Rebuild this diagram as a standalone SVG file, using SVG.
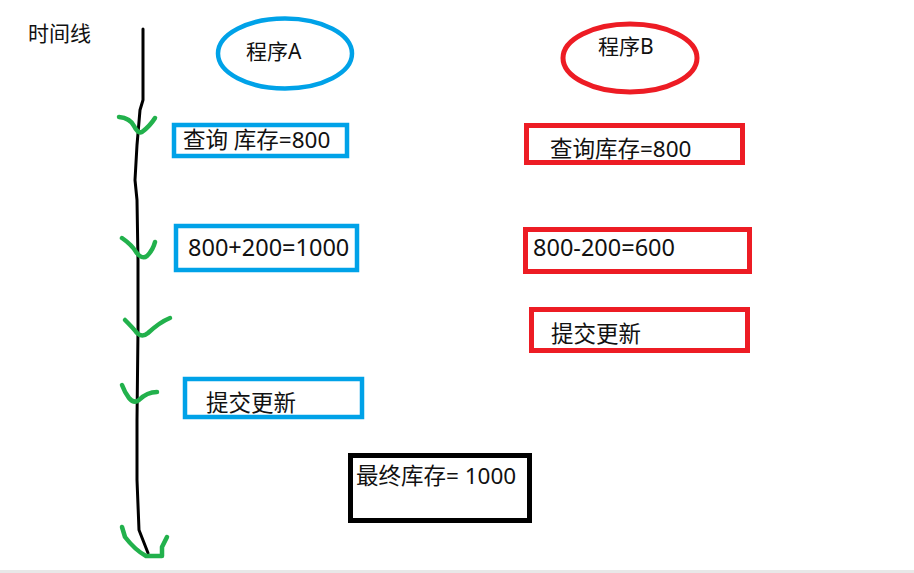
<svg xmlns="http://www.w3.org/2000/svg" width="914" height="573" viewBox="0 0 914 573">
<style>
text{font-family:"Noto Sans","Noto Sans CJK SC",sans-serif;font-size:22.5px;fill:#111}
.num{font-size:23.5px}
.blue{fill:none;stroke:#00a2e8;stroke-width:4.5}
.red{fill:none;stroke:#ed1c24;stroke-width:5}
.blk{fill:none;stroke:#000;stroke-width:5}
.chk{fill:none;stroke:#22b14c;stroke-width:4.5;stroke-linecap:round;stroke-linejoin:round}
.tl{fill:none;stroke:#000;stroke-width:3;stroke-linecap:round;stroke-linejoin:round}
</style>
<rect width="914" height="573" fill="#fff"/>
<rect x="0" y="570" width="914" height="3" fill="#e8e8e8"/>
<text x="28" y="41" style="font-size:21px">时间线</text>
<g id="connectors">
<path class="tl" d="M143,29 L143,100 L140,110 L137,145 L135,180 L137,200 L138,260 L138,330 L137,420 L137,480 L139,530 L148,553"/>
<path class="chk" d="M119,117 Q130,118 134,126 Q138,134 142,132 Q150,126 155,118"/>
<path class="chk" d="M122,238 Q132,245 136,252 Q142,260 147,256 Q153,250 155,242"/>
<path class="chk" d="M125,320 Q133,328 137,333 Q142,338 148,333 Q160,322 170,318"/>
<path class="chk" d="M122,385 Q125,393 129,398 Q134,404 139,400 Q147,392 157,392"/>
<path class="chk" d="M122,527 L125,537 Q135,550 146,556 L162,556 L162,547 L167,537"/>
</g>
<g id="progA">
<ellipse class="blue" cx="285" cy="53.5" rx="67" ry="35"/>
<text x="246" y="59" style="font-size:21px">程序A</text>
</g>
<g id="progB">
<ellipse class="red" cx="630" cy="58" rx="67" ry="34"/>
<text x="598" y="54" style="font-size:21px">程序B</text>
</g>
<g id="a1">
<rect class="blue" x="174" y="125" width="173" height="31"/>
<text x="183" y="148">查询 库存=800</text>
</g>
<g id="b1">
<rect class="red" x="526.5" y="125.5" width="216" height="37"/>
<text x="550" y="157">查询库存=800</text>
</g>
<g id="a2">
<rect class="blue" x="176" y="226" width="181" height="44"/>
<text class="num" x="188" y="256">800+200=1000</text>
</g>
<g id="b2">
<rect class="red" x="525.5" y="229.5" width="224" height="42"/>
<text class="num" x="533" y="256">800-200=600</text>
</g>
<g id="b3">
<rect class="red" x="531.5" y="309.5" width="216" height="41"/>
<text x="551" y="342">提交更新</text>
</g>
<g id="a3">
<rect class="blue" x="185" y="379" width="177" height="38"/>
<text x="206" y="411">提交更新</text>
</g>
<g id="final">
<rect class="blk" x="350.5" y="455.5" width="179" height="65"/>
<text x="356" y="484">最终库存= 1000</text>
</g>
</svg>
